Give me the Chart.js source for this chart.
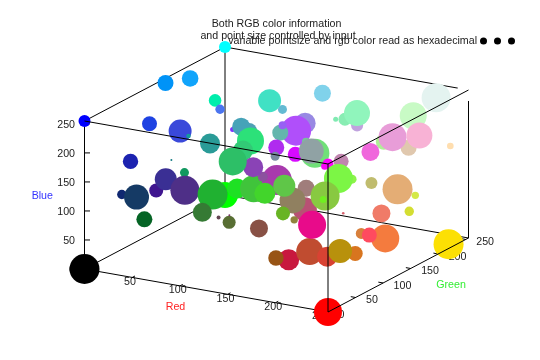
<!DOCTYPE html>
<html lang="en">
<head>
<meta charset="UTF-8">
<title>RGB points</title>
<script src="https://cdn.jsdelivr.net/npm/chart.js@4/dist/chart.umd.min.js"></script>
<style>
    body { margin: 0; background: #fff; }
</style>
</head>
<body>
<canvas id="myChart" width="540" height="360"></canvas>
<script>
    var red = [0,0,0,255,252,255,0,16,0,75,30,58,20,42,28,20,17,63,58,78,16,21,5,0,32,53,30,64,168,140,66,80,128,70,44,50,138,45,100,64,128,128,136,192,144,200,228,175,224,232,248,240,255,152,176,100,152,176,120,215,112,120,144,255,248,192,192,228,212,212,240,215,244,216,255,216,200,192,152,216,184,160,184,144,144,104,95,232,140,124,136,112,136,88,100,120];
    var green = [0,0,255,0,224,255,147,164,237,116,66,73,154,155,35,123,152,21,47,47,40,58,100,255,177,122,225,196,58,81,213,160,47,163,225,201,67,191,186,225,210,234,237,162,245,250,243,240,200,157,178,103,222,137,79,182,96,43,138,10,224,194,162,0,6,133,188,173,233,222,123,97,123,128,75,117,24,76,84,66,145,125,81,128,131,180,198,11,243,246,201,239,81,110,70,55];
    var blue = [0,255,255,0,4,255,247,251,172,239,226,218,158,151,176,132,95,143,148,135,113,101,37,0,49,52,35,59,173,159,43,181,254,184,121,118,182,103,211,196,235,178,179,222,188,197,240,150,174,216,213,220,175,227,250,173,244,239,160,255,120,157,164,255,246,175,110,117,72,50,104,110,62,60,95,31,62,48,21,51,12,123,116,96,61,36,72,138,74,69,65,33,69,51,83,100];
    var size = [15,6,6,14,15,11,8,8.3,6.3,4.7,7.5,11.5,2.3,10,7.7,1,4.5,7,11,14.5,4.7,12.5,8,13,15,9.5,10,13.5,15,5,10.5,8,2.5,9,13.5,10,10,14,4.5,11.5,8.5,2.5,6.5,6,13,13.5,14.5,8,8,14,13,9,3.3,10.5,15,8,4,8,4.5,7.5,14.5,4,12.5,5.5,3.5,7.5,6,15,3.7,4.7,9,1.3,14,5.5,7.5,7.5,10.5,13.5,7.7,10,12,8.5,12,13,3.7,7,11,14,4.5,14.5,14.5,3.5,9,6.5,2,1];

    var axisTicks = [0,50,100,150,200,250];
    var axisMax = 255;
    var titleLines = ["Both RGB color information", "and point size controlled by input"];
    var keyLabel = "variable pointsize and rgb color read as hexadecimal";

    // gnuplot view of the cube, worked out from where its corners land on the page
    function projX(r, g, b) {
        return 84.5 + r * 243.5 / 255 + g * 140.5 / 255;
    }
    function projY(r, g, b) {
        return 269 + r * 43 / 255 - g * 74 / 255 - b * 148 / 255;
    }
    function corner(r, g, b) {
        return {x: projX(r, g, b), y: projY(r, g, b)};
    }
    // several segments in one dataset, null breaks the line
    function segments(list) {
        var pts = [];
        list.forEach(function (s) {
            pts.push(corner(s[0], s[1], s[2]), corner(s[3], s[4], s[5]), {x: null, y: null});
        });
        return pts;
    }

    var m = axisMax;
    var backEdges = [
        [0,0,0, m,0,0], [0,0,0, 0,m,0], [0,m,0, m,m,0],
        [0,0,0, 0,0,m], [0,m,0, 0,m,m], [m,m,0, m,m,m],
        [0,0,m, 0,m,m], [0,m,m, m,m,m]
    ];
    axisTicks.forEach(function (t) {
        if (t == 0) return;
        backEdges.push([t,0,0, t,5,0]);
        backEdges.push([m,t,0, m-5,t,0]);
    });
    var frontEdges = [
        [m,0,0, m,m,0], [m,0,0, m,0,m],
        [0,0,m, m,0,m], [m,0,m, m,m,m]
    ];

    var bubbles = [];
    var colors = [];
    for (var i = 0; i < red.length; i++) {
        bubbles.push({x: projX(red[i], green[i], blue[i]), y: projY(red[i], green[i], blue[i]), r: size[i]});
        colors.push("rgb(" + red[i] + "," + green[i] + "," + blue[i] + ")");
    }

    var textPlugin = {
        id: "gnuplotText",
        beforeDatasetsDraw: function (chart) {
            var c = chart.ctx;
            var sx = chart.scales.x, sy = chart.scales.y;
            function text(s, x, y, align, color) {
                c.textAlign = align;
                c.fillStyle = color || "#222";
                c.fillText(s, sx.getPixelForValue(x), sy.getPixelForValue(y));
            }
            c.save();
            c.font = "10.67px 'Liberation Sans'";
            c.textBaseline = "middle";
            axisTicks.forEach(function (t) {
                text(String(t), projX(t, 0, 0) - 2.3, projY(t, 0, 0) + 4.5, "center");
                text(String(t), projX(m, t, 0) + 10.5, projY(m, t, 0) + 2.7, "left");
                text(String(t), projX(0, 0, t) - 9.5, projY(0, 0, t) + 1, "right");
                // z ticks stay horizontal on the page
                c.strokeStyle = "#000";
                c.lineWidth = 1;
                if (t != 0) {
                    c.beginPath();
                    c.moveTo(sx.getPixelForValue(projX(0, 0, t)), sy.getPixelForValue(projY(0, 0, t)));
                    c.lineTo(sx.getPixelForValue(projX(0, 0, t) + 5.5), sy.getPixelForValue(projY(0, 0, t)));
                    c.stroke();
                }
            });
            text("Red", 175.5, 307.5, "center", "#ff2222");
            text("Green", 451, 285.5, "center", "#33ee33");
            text("Blue", 42.3, 196, "center", "#3333ff");
            text(titleLines[0], 276.5, 24.5, "center");
            text(titleLines[1], 278, 36.5, "center");
            text(keyLabel, 477, 41.5, "right");
            // key sample, three dots
            c.fillStyle = "#000";
            [483.5, 497.5, 511.5].forEach(function (x) {
                c.beginPath();
                c.arc(x, 41, 3.5, 0, Math.PI * 2);
                c.fill();
            });
            c.restore();
        }
    };

    var ctx = document.getElementById("myChart");
    var myChart = new Chart(ctx, {
        data: {
            datasets: [
                {
                    type: "line",
                    data: segments(backEdges),
                    borderColor: "#000",
                    borderWidth: 1,
                    pointRadius: 0,
                    spanGaps: false,
                    order: 3
                },
                {
                    type: "bubble",
                    data: bubbles,
                    backgroundColor: colors,
                    borderWidth: 0,
                    order: 2
                },
                {
                    type: "line",
                    data: segments(frontEdges),
                    borderColor: "#000",
                    borderWidth: 1,
                    pointRadius: 0,
                    spanGaps: false,
                    order: 1
                }
            ]
        },
        options: {
            responsive: false,
            animation: false,
            events: [],
            layout: {padding: 0, autoPadding: false},
            plugins: {legend: {display: false}, tooltip: {enabled: false}},
            scales: {
                x: {type: "linear", min: 0, max: 540, display: false},
                y: {type: "linear", min: 0, max: 360, reverse: true, display: false}
            }
        },
        plugins: [textPlugin]
    });
</script>
</body>
</html>
